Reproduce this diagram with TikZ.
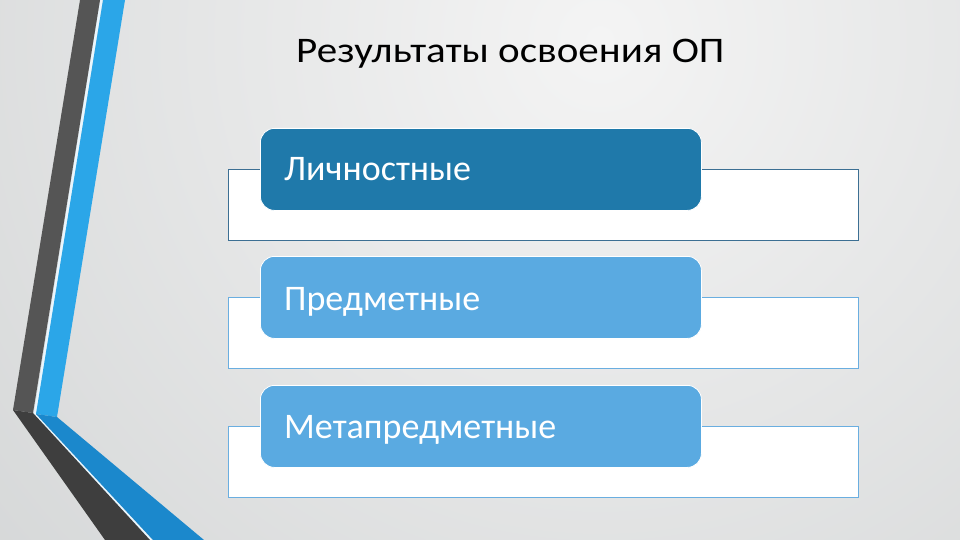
\documentclass[tikz,border=0pt]{standalone}
\usepackage{fontspec}
\setmainfont{Carlito}
\newfontfamily\titlefont[FakeStretch=1.14]{Carlito}
\definecolor{bgin}{HTML}{F4F4F4}
\definecolor{bgout}{HTML}{B8BCBD}
\definecolor{darkstripe}{HTML}{555555}
\definecolor{darkstripeB}{HTML}{3E3E3E}
\definecolor{bluestripe}{HTML}{2BA6E8}
\definecolor{bluestripeB}{HTML}{1B88CC}
\definecolor{boxA}{HTML}{1F79AA}
\definecolor{boxB}{HTML}{5AAAE1}
\definecolor{frameA}{HTML}{3C6F93}
\definecolor{frameB}{HTML}{6AAEE0}
\pgfdeclareradialshading{bgshade}{\pgfpoint{0bp}{0bp}}{color(0bp)=(bgin); color(50bp)=(bgout)}
\tikzset{
  frame/.style={draw=frameB, fill=white, line width=0.8pt, anchor=north west, minimum width=630pt, minimum height=71pt, inner sep=0pt},
  labelbox/.style={fill=boxB, draw=white, line width=0.8pt, rounded corners=14pt, anchor=north west, minimum width=441pt, minimum height=82pt, inner sep=0pt},
  boxtext/.style={text=white, font=\fontsize{36}{40}\selectfont, anchor=base west, inner sep=0pt},
}
\begin{document}
\begin{tikzpicture}[x=1pt,y=-1pt]
\useasboundingbox (0,0) rectangle (960,540);
\begin{scope}
\clip (0,0) rectangle (960,540);
\fill[bgout] (0,0) rectangle (960,540);
\shade[shading=bgshade] (600,40) circle (800);
% left stripes
\draw[line width=2.5pt, color=white!90!bluestripe] (101.5,0) -- (35,414) -- (151,540);
\fill[darkstripe] (80,0) -- (100,0) -- (33,413) -- (13,410) -- cycle;
\fill[darkstripeB] (13,410) -- (33,413) -- (150,540) -- (105,540) -- cycle;
\fill[bluestripe] (103,0) -- (125,0) -- (57,417) -- (36,414) -- cycle;
\fill[bluestripeB] (36,414) -- (57,417) -- (204,540) -- (153,540) -- cycle;
\end{scope}
% title
\node[anchor=base west, inner sep=0pt, font=\titlefont\fontsize{36}{40}\selectfont] (title) at (296,63) {Результаты освоения ОП};
% frames
\node[frame, draw=frameA] (r1) at (228,169) {};
\node[frame] (r2) at (228,297) {};
\node[frame] (r3) at (228,426) {};
% label boxes
\node[labelbox, fill=boxA] (b1) at (260,128) {};
\node[labelbox] (b2) at (260,256) {};
\node[labelbox] (b3) at (260,385) {};
\node[boxtext] (t1) at (284,181) {Личностные};
\node[boxtext] (t2) at (284,310) {Предметные};
\node[boxtext] (t3) at (284,438) {Метапредметные};
\end{tikzpicture}
\end{document}
